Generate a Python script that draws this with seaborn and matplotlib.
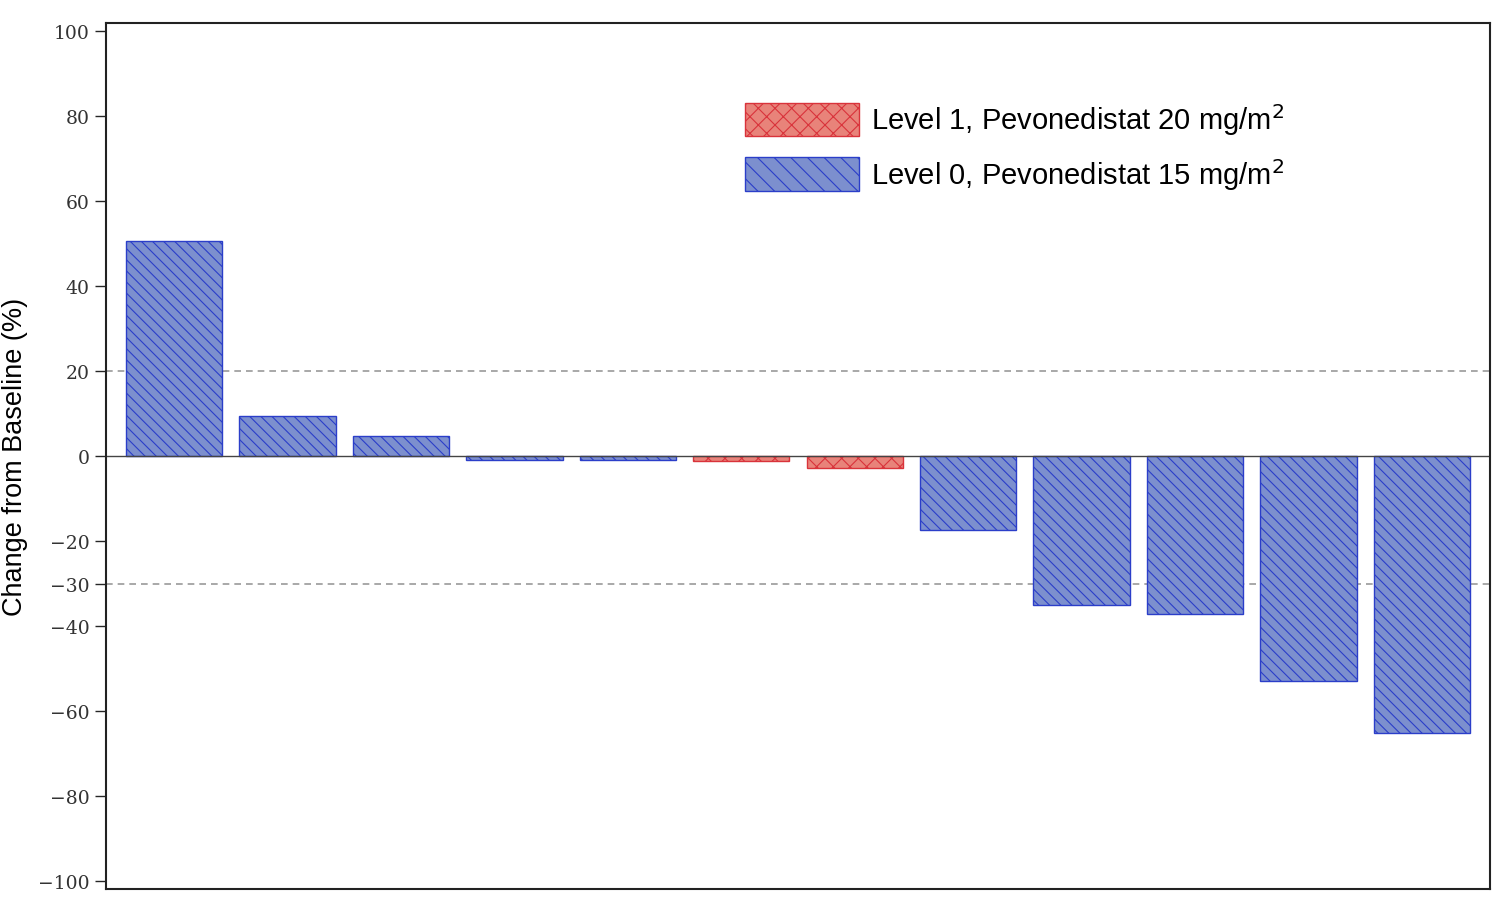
import matplotlib
matplotlib.use('Agg')
from matplotlib import pyplot as plt
from matplotlib.patches import Patch
import pandas as pd
import seaborn as sns

# Data
patients = [f'P{i}' for i in range(1, 13)]
change = [50.6, 9.5, 4.8, -1.0, -1.0, -1.2, -2.7, -17.3, -35.1, -37.0, -52.8, -65.0]
level = ['Level 0', 'Level 0', 'Level 0', 'Level 0', 'Level 0', 'Level 1', 'Level 1',
         'Level 0', 'Level 0', 'Level 0', 'Level 0', 'Level 0']
y_ticks = [100, 80, 60, 40, 20, 0, -20, -30, -40, -60, -80, -100]
ref_lines = [20, -30]

df = pd.DataFrame({'Patient': patients, 'Change': change, 'Level': level})

face = {'Level 1': '#e8837a', 'Level 0': '#7c8fce'}
edge = {'Level 1': '#d9333b', 'Level 0': '#2b3ec9'}
hatch = {'Level 1': 'xx', 'Level 0': '\\\\\\'}

sns.set_style('white')
plt.rcParams['hatch.linewidth'] = 0.8

fig = plt.figure(figsize=(15.11, 9.04), dpi=100)
ax = fig.add_axes([106 / 1511, 1 - 890 / 904, (1490 - 106) / 1511, (890 - 24) / 904])

sns.barplot(data=df, x='Patient', y='Change', hue='Level', palette=face,
            dodge=False, width=0.85, legend=False, ax=ax)

# patches come grouped by hue, so match each one to its bar by x position
for patch in ax.patches:
    idx = int(round(patch.get_x() + patch.get_width() / 2))
    if idx < 0 or idx >= len(level) or patch.get_height() == 0:
        continue
    lv = level[idx]
    patch.set_facecolor(face[lv])
    patch.set_edgecolor(edge[lv])
    patch.set_hatch(hatch[lv])
    patch.set_linewidth(1.0)

ax.axhline(0, color='#444444', linewidth=1.0, zorder=1)
for yv in ref_lines:
    ax.axhline(yv, color='#999999', linewidth=1.2, linestyle=(0, (4, 3)), zorder=0)

ax.set_xlim(-0.6, 11.6)
ax.set_ylim(-101.8, 101.9)
ax.set_yticks(y_ticks)
ax.set_yticklabels([str(t).replace('-', '\u2212') for t in y_ticks],
                   fontfamily='DejaVu Serif', fontsize=13.5, color='#333333')
ax.set_xticks([])
ax.set_xlabel('')
ax.set_ylabel('Change from Baseline (%)', fontsize=19.5, fontfamily='Liberation Sans', color='black')
ax.yaxis.set_label_coords(-0.0565, 0.5)
ax.tick_params(axis='y', length=8, width=1, direction='out', left=True, pad=4)

for sp in ax.spines.values():
    sp.set_linewidth(1.5)
    sp.set_color('#222222')

handles = [Patch(facecolor=face['Level 1'], edgecolor=edge['Level 1'], hatch='xx',
                 label='Level 1, Pevonedistat 20 mg/m$^2$'),
           Patch(facecolor=face['Level 0'], edgecolor=edge['Level 0'], hatch='\\\\',
                 label='Level 0, Pevonedistat 15 mg/m$^2$')]
ax.legend(handles=handles, loc='upper left', bbox_to_anchor=(0.443, 0.94), frameon=False,
          prop={'family': 'Liberation Sans', 'size': 21}, handlelength=3.9,
          handleheight=1.4, labelspacing=0.65, handletextpad=0.4, labelcolor='black')

fig.savefig('out.png', dpi=100)
